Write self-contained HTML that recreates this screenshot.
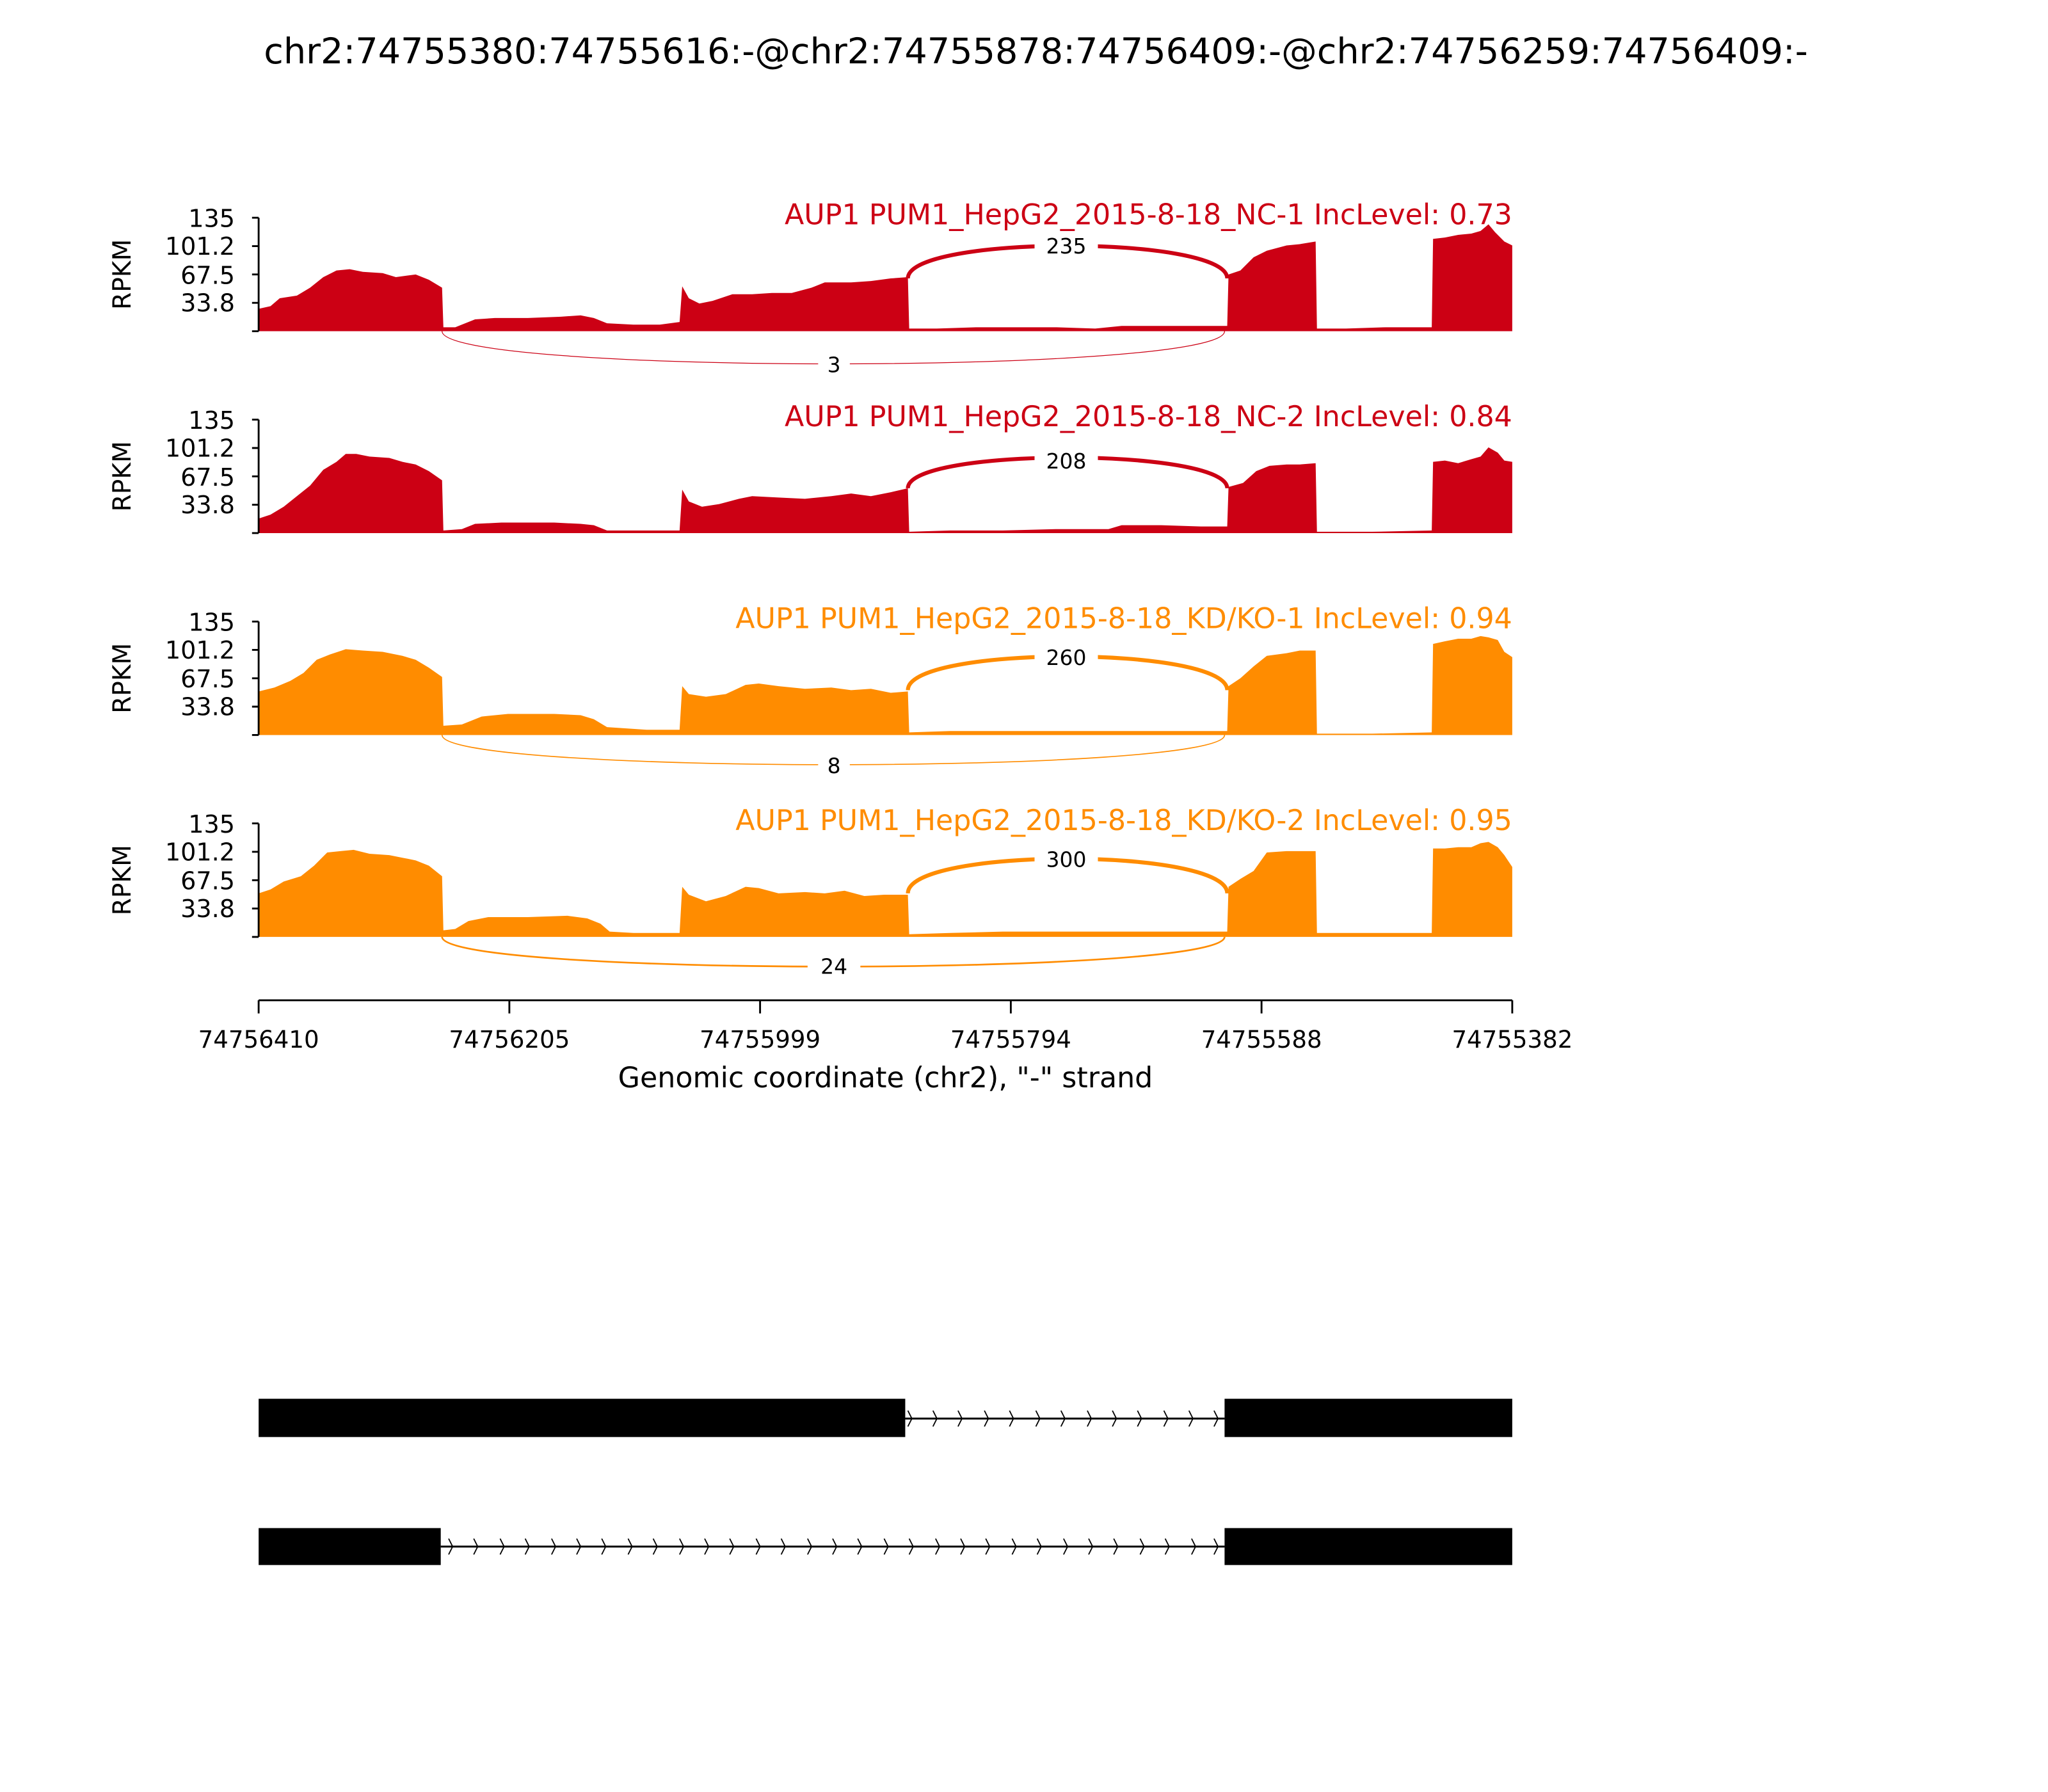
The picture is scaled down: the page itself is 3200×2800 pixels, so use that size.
<!DOCTYPE html>
<html><head><meta charset="utf-8"><style>
html,body{margin:0;padding:0;background:#fff}
svg{display:block}
text{font-family:"DejaVu Sans","Liberation Sans",sans-serif}
</style></head><body>
<svg width="3200" height="2800" viewBox="0 0 1552 1358" xmlns="http://www.w3.org/2000/svg">
<rect width="1552" height="1358" fill="#fff"/>
<text x="785" y="48" font-size="27" text-anchor="middle">chr2:74755380:74755616:-@chr2:74755878:74756409:-@chr2:74756259:74756409:-</text>

<!-- Panel 1 -->
<g>
<polygon fill="#cc0014" points="196,251 196,234 205,232 212,226 225,224 235,218 245,210 255,205 265,204 275,206 290,207 300,210 315,208 325,212 335,218 336,248 345,248 360,242 375,241 400,241 425,240 440,239 450,241 460,245 480,246 500,246 515,244 517,217 522,226 530,230 540,228 555,223 570,223 585,222 600,222 615,218 625,214 645,214 660,213 675,211 688,210 689,249 710,249 740,248 770,248 800,248 830,249 850,247 880,247 910,247 930,247 931,208 940,205 950,195 960,190 975,186 985,185 997,183 998,249 1020,249 1050,248 1070,248 1085,248 1086,181 1095,180 1105,178 1115,177 1122,175 1128,170 1133,176 1140,183 1146,186 1146,251"/>
<path d="M688 211 C688 178,930 178,930 211" fill="none" stroke="#cc0014" stroke-width="3"/>
<rect x="784" y="176" width="48" height="20" fill="#fff"/>
<text x="808" y="192" font-size="16" text-anchor="middle">235</text>
<path d="M335 251 C335 284,928 284,928 251" fill="none" stroke="#cc0014" stroke-width="0.6"/>
<rect x="620" y="266" width="24" height="20" fill="#fff"/>
<text x="632" y="282" font-size="16" text-anchor="middle">3</text>
<text x="1146" y="170" font-size="21.5" fill="#cc0014" text-anchor="end">AUP1 PUM1_HepG2_2015-8-18_NC-1 IncLevel: 0.73</text>
</g>

<!-- Panel 2 -->
<g>
<polygon fill="#cc0014" points="196,404 196,393 205,390 215,384 225,376 235,368 245,356 255,350 262,344 270,344 280,346 295,347 305,350 315,352 325,357 335,364 336,402 350,401 360,397 380,396 420,396 440,397 450,398 460,402 490,402 515,402 517,371 522,380 532,384 545,382 560,378 570,376 590,377 610,378 630,376 645,374 660,376 675,373 688,370 689,403 720,402 760,402 800,401 840,401 850,398 880,398 910,399 930,399 931,369 942,366 952,357 962,353 975,352 985,352 997,351 998,403 1040,403 1085,402 1086,350 1095,349 1105,351 1115,348 1122,346 1128,339 1135,343 1140,349 1146,350 1146,404"/>
<path d="M688 370 C688 339,930 339,930 370" fill="none" stroke="#cc0014" stroke-width="3"/>
<rect x="784" y="339" width="48" height="20" fill="#fff"/>
<text x="808" y="355" font-size="16" text-anchor="middle">208</text>
<text x="1146" y="323" font-size="21.5" fill="#cc0014" text-anchor="end">AUP1 PUM1_HepG2_2015-8-18_NC-2 IncLevel: 0.84</text>
</g>

<!-- Panel 3 -->
<g>
<polygon fill="#ff8c00" points="196,557 196,524 208,521 220,516 230,510 240,500 250,496 262,492 275,493 290,494 305,497 315,500 325,506 335,513 336,550 350,549 365,543 385,541 420,541 440,542 450,545 460,551 490,553 515,553 517,520 522,526 535,528 550,526 565,519 575,518 590,520 610,522 630,521 645,523 660,522 675,525 688,524 689,555 720,554 760,554 800,554 850,554 900,554 930,554 931,520 940,514 950,505 960,497 975,495 985,493 997,493 998,556 1040,556 1085,555 1086,488 1095,486 1105,484 1115,484 1122,482 1128,483 1135,485 1140,494 1146,498 1146,557"/>
<path d="M688 523 C688 489,930 489,930 523" fill="none" stroke="#ff8c00" stroke-width="3"/>
<rect x="784" y="488" width="48" height="20" fill="#fff"/>
<text x="808" y="504" font-size="16" text-anchor="middle">260</text>
<path d="M335 557 C335 587,928 587,928 557" fill="none" stroke="#ff8c00" stroke-width="0.8"/>
<rect x="620" y="570" width="24" height="20" fill="#fff"/>
<text x="632" y="586" font-size="16" text-anchor="middle">8</text>
<text x="1146" y="476" font-size="21.5" fill="#ff8c00" text-anchor="end">AUP1 PUM1_HepG2_2015-8-18_KD/KO-1 IncLevel: 0.94</text>
</g>

<!-- Panel 4 -->
<g>
<polygon fill="#ff8c00" points="196,710 196,677 205,674 215,668 228,664 238,656 248,646 258,645 268,644 280,647 295,648 305,650 315,652 325,656 335,664 336,705 345,704 355,698 370,695 400,695 430,694 445,696 455,700 462,706 480,707 515,707 517,672 522,678 535,683 550,679 565,672 575,673 590,677 610,676 625,677 640,675 655,679 670,678 688,678 689,708 720,707 760,706 800,706 850,706 900,706 930,706 931,672 940,666 950,660 960,646 975,645 985,645 997,645 998,707 1040,707 1085,707 1086,643 1095,643 1105,642 1115,642 1122,639 1128,638 1135,642 1140,648 1146,657 1146,710"/>
<path d="M688 677 C688 642,930 642,930 677" fill="none" stroke="#ff8c00" stroke-width="3"/>
<rect x="784" y="641" width="48" height="20" fill="#fff"/>
<text x="808" y="657" font-size="16" text-anchor="middle">300</text>
<path d="M335 710 C335 740,928 740,928 710" fill="none" stroke="#ff8c00" stroke-width="1.3"/>
<rect x="612" y="722" width="40" height="20" fill="#fff"/>
<text x="632" y="738" font-size="16" text-anchor="middle">24</text>
<text x="1146" y="629" font-size="21.5" fill="#ff8c00" text-anchor="end">AUP1 PUM1_HepG2_2015-8-18_KD/KO-2 IncLevel: 0.95</text>
</g>

<!-- Y axes -->
<g stroke="#000" stroke-width="1.4" fill="none">
<path d="M196 165 V251 M191 165 H196 M191 186.5 H196 M191 208 H196 M191 229.5 H196 M191 251 H196"/>
<path d="M196 318 V404 M191 318 H196 M191 339.5 H196 M191 361 H196 M191 382.5 H196 M191 404 H196"/>
<path d="M196 471 V557 M191 471 H196 M191 492.5 H196 M191 514 H196 M191 535.5 H196 M191 557 H196"/>
<path d="M196 624 V710 M191 624 H196 M191 645.5 H196 M191 667 H196 M191 688.5 H196 M191 710 H196"/>
</g>
<g font-size="18.5" text-anchor="end">
<text x="178" y="172">135</text><text x="178" y="193">101.2</text><text x="178" y="215">67.5</text><text x="178" y="236">33.8</text>
<text x="178" y="325">135</text><text x="178" y="346">101.2</text><text x="178" y="368">67.5</text><text x="178" y="389">33.8</text>
<text x="178" y="478">135</text><text x="178" y="499">101.2</text><text x="178" y="521">67.5</text><text x="178" y="542">33.8</text>
<text x="178" y="631">135</text><text x="178" y="652">101.2</text><text x="178" y="674">67.5</text><text x="178" y="695">33.8</text>
</g>
<g font-size="19" text-anchor="middle">
<text transform="translate(99,208) rotate(-90)">RPKM</text>
<text transform="translate(99,361) rotate(-90)">RPKM</text>
<text transform="translate(99,514) rotate(-90)">RPKM</text>
<text transform="translate(99,667) rotate(-90)">RPKM</text>
</g>

<!-- X axis -->
<g stroke="#000" stroke-width="1.4">
<line x1="196" y1="758" x2="1146" y2="758"/>
<line x1="196" y1="758" x2="196" y2="768"/><line x1="386" y1="758" x2="386" y2="768"/>
<line x1="576" y1="758" x2="576" y2="768"/><line x1="766" y1="758" x2="766" y2="768"/>
<line x1="956" y1="758" x2="956" y2="768"/><line x1="1146" y1="758" x2="1146" y2="768"/>
</g>
<g font-size="18" text-anchor="middle">
<text x="196" y="794">74756410</text><text x="386" y="794">74756205</text><text x="576" y="794">74755999</text>
<text x="766" y="794">74755794</text><text x="956" y="794">74755588</text><text x="1146" y="794">74755382</text>
</g>
<text x="671" y="824" font-size="21.5" text-anchor="middle">Genomic coordinate (chr2), "-" strand</text>

<!-- Gene models -->
<rect x="196" y="1060" width="490" height="29" fill="#000"/>
<rect x="928" y="1060" width="218" height="29" fill="#000"/>
<line x1="686" y1="1075" x2="928" y2="1075" stroke="#000" stroke-width="1.5"/>
<path fill="none" stroke="#000" stroke-width="0.9" d="M688 1069 l3 6 l-3 6 M707 1069 l3 6 l-3 6 M726 1069 l3 6 l-3 6 M746 1069 l3 6 l-3 6 M765 1069 l3 6 l-3 6 M785 1069 l3 6 l-3 6 M804 1069 l3 6 l-3 6 M824 1069 l3 6 l-3 6 M843 1069 l3 6 l-3 6 M862 1069 l3 6 l-3 6 M882 1069 l3 6 l-3 6 M901 1069 l3 6 l-3 6 M920 1069 l3 6 l-3 6"/>
<rect x="196" y="1158" width="138" height="28" fill="#000"/>
<rect x="928" y="1158" width="218" height="28" fill="#000"/>
<line x1="334" y1="1172" x2="928" y2="1172" stroke="#000" stroke-width="1.5"/>
<path fill="none" stroke="#000" stroke-width="0.9" d="M340 1166 l3 6 l-3 6 M359 1166 l3 6 l-3 6 M379 1166 l3 6 l-3 6 M398 1166 l3 6 l-3 6 M418 1166 l3 6 l-3 6 M437 1166 l3 6 l-3 6 M456 1166 l3 6 l-3 6 M476 1166 l3 6 l-3 6 M495 1166 l3 6 l-3 6 M515 1166 l3 6 l-3 6 M534 1166 l3 6 l-3 6 M553 1166 l3 6 l-3 6 M573 1166 l3 6 l-3 6 M592 1166 l3 6 l-3 6 M612 1166 l3 6 l-3 6 M631 1166 l3 6 l-3 6 M650 1166 l3 6 l-3 6 M670 1166 l3 6 l-3 6 M689 1166 l3 6 l-3 6 M709 1166 l3 6 l-3 6 M728 1166 l3 6 l-3 6 M747 1166 l3 6 l-3 6 M767 1166 l3 6 l-3 6 M786 1166 l3 6 l-3 6 M806 1166 l3 6 l-3 6 M825 1166 l3 6 l-3 6 M844 1166 l3 6 l-3 6 M864 1166 l3 6 l-3 6 M883 1166 l3 6 l-3 6 M903 1166 l3 6 l-3 6 M920 1166 l3 6 l-3 6"/>
</svg>
</body></html>
